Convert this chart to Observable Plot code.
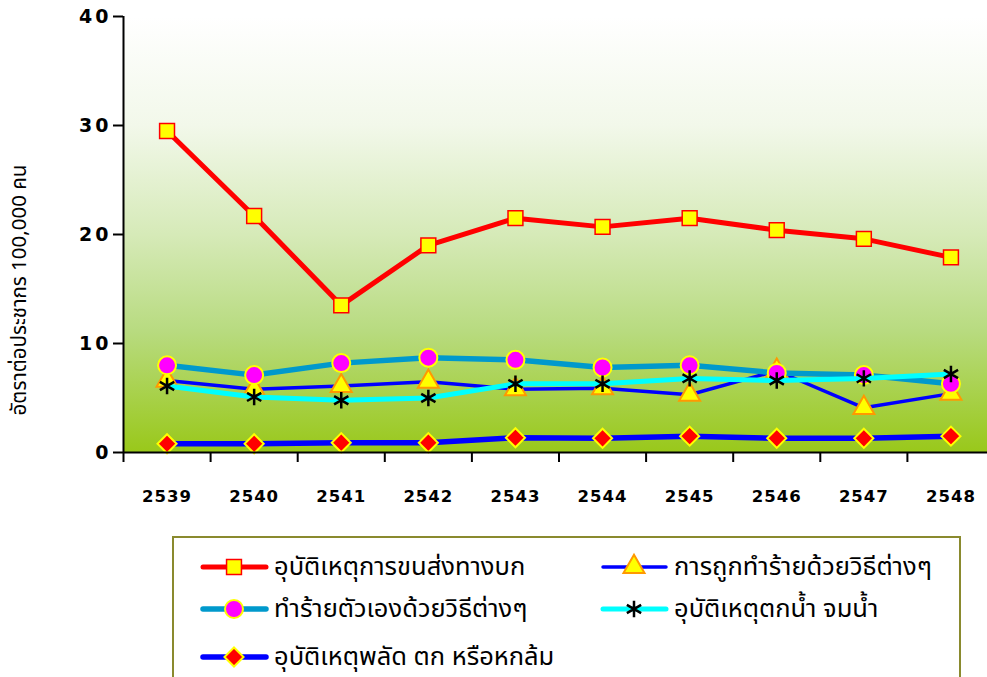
<!DOCTYPE html>
<html>
<head>
<meta charset="utf-8">
<script src="https://cdn.jsdelivr.net/npm/d3@7"></script>
<script src="https://cdn.jsdelivr.net/npm/@observablehq/plot@0.6"></script>
<style>
  html, body { margin: 0; padding: 0; background: #ffffff; }
  #wrap { position: relative; width: 987px; height: 677px; overflow: hidden; background: #fff; }
  #legend { position: absolute; left: 172px; top: 536px; width: 789px; height: 150px; border: 2px solid #8a8a2e; box-sizing: border-box; background: #fff; }
  .item { position: absolute; height: 30px; display: flex; align-items: center; white-space: nowrap; }
  .item span { font-family: "Noto Sans Thai", "Tahoma", "DejaVu Sans", sans-serif; font-size: 25.5px; color: #000; margin-left: 4px; }
  .item svg { display: block; }
  .ylab text { letter-spacing: 3px; }
  .xlab text { letter-spacing: 1px; }
</style>
</head>
<body>
<div id="wrap"><div id="chart"></div><div id="legend"></div></div>
<script>
// ---- data ----
const years = [2539, 2540, 2541, 2542, 2543, 2544, 2545, 2546, 2547, 2548];
const road     = [29.5, 21.7, 13.5, 19.0, 21.5, 20.7, 21.5, 20.4, 19.6, 17.9];
const assault  = [6.6, 5.8, 6.1, 6.5, 5.8, 5.9, 5.3, 7.5, 4.1, 5.4];
const selfHarm = [8.0, 7.1, 8.2, 8.7, 8.5, 7.8, 8.0, 7.3, 7.1, 6.3];
const drowning = [6.1, 5.1, 4.8, 5.0, 6.3, 6.3, 6.8, 6.6, 6.8, 7.2];
const falls    = [0.8, 0.8, 0.9, 0.9, 1.35, 1.3, 1.5, 1.3, 1.3, 1.5];
const yTicks = [0, 10, 20, 30, 40];
const seriesNames = [
  "อุบัติเหตุการขนส่งทางบก",
  "การถูกทำร้ายด้วยวิธีต่างๆ",
  "ทำร้ายตัวเองด้วยวิธีต่างๆ",
  "อุบัติเหตุตกน้ำ จมน้ำ",
  "อุบัติเหตุพลัด ตก หรือหกล้ม"
];
const yTitle = "อัตราต่อประชากร 100,000 คน";

// ---- styles per series ----
const styles = [
  {values: road,     line: "#ff0000", lw: 5,   symbol: "square",   r: 8.4, fill: "#ffff00", stroke: "#ff0000", sw: 1.5},
  {values: assault,  line: "#0000ff", lw: 3.5, symbol: "triangle", r: 7.8, fill: "#ffff00", stroke: "#ff9900", sw: 2},
  {values: selfHarm, line: "#0099cc", lw: 5.5, symbol: "circle",   r: 9,   fill: "#ff00ff", stroke: "#ffff00", sw: 2},
  {values: drowning, line: "#00ffff", lw: 5,   symbol: "asterisk", r: 7.8, fill: "none",    stroke: "#000000", sw: 2.5},
  {values: falls,    line: "#0000ff", lw: 5.5, symbol: "diamond2", r: 8.6, fill: "#ff0000", stroke: "#ffff00", sw: 2}
];

const boundaries = years.map(y => y - 0.5);

const marks = [
  Plot.frame({fill: "url(#bgGrad)", stroke: null}),
];
styles.forEach((s, i) => {
  const data = years.map((yr, j) => ({year: yr, value: s.values[j]}));
  marks.push(Plot.line(data, {x: "year", y: "value", stroke: s.line, strokeWidth: s.lw, strokeLinejoin: "round", strokeLinecap: "round"}));
  marks.push(Plot.dot(data, {x: "year", y: "value", symbol: () => s.symbol, r: s.r,
    fill: s.fill, stroke: s.stroke, strokeWidth: s.sw}));
});
marks.push(
  Plot.ruleX([boundaries[0]], {stroke: "#000", strokeWidth: 2}),
  Plot.ruleY([0], {stroke: "#000", strokeWidth: 2}),
  Plot.axisY({ticks: yTicks, tickSize: 10, tickPadding: 2, tickFormat: d => String(d), label: null,
    fontSize: 19, fontWeight: "bold", fontFamily: "DejaVu Sans", stroke: "#000", strokeWidth: 2, className: "ylab"}),
  Plot.axisX({ticks: boundaries, tickSize: 10, tickFormat: () => "", label: null, stroke: "#000", strokeWidth: 2}),
  Plot.axisX({ticks: years, tickSize: 0, tickPadding: 38, tickFormat: d => String(d), label: null,
    fontSize: 16.5, fontWeight: "bold", fontFamily: "DejaVu Sans", className: "xlab"})
);

const plot = Plot.plot({
  width: 987,
  height: 530,
  marginLeft: 123,
  marginRight: 0,
  marginTop: 16,
  marginBottom: 78,
  style: {background: "transparent", overflow: "visible"},
  x: {type: "linear", domain: [2538.5, 2548.5], range: [123, 994]},
  y: {domain: [0, 40], ticks: yTicks},
  symbol: {type: "identity"},
  marks
});

// gradient definition
const svg = d3.select(plot);
const defs = svg.insert("defs", ":first-child");
const grad = defs.append("linearGradient").attr("id", "bgGrad").attr("x1", 0).attr("y1", 0).attr("x2", 0).attr("y2", 1);
[[0, "#ffffff"], [0.25, "#f2f8ea"], [0.5, "#d6eab8"], [0.72, "#b8db80"], [1, "#99c81a"]].forEach(([o, c]) =>
  grad.append("stop").attr("offset", o).attr("stop-color", c));

// y axis title
svg.append("text")
  .attr("transform", "translate(20,290) rotate(-90)")
  .attr("text-anchor", "middle")
  .attr("dominant-baseline", "middle")
  .attr("font-family", "'Noto Sans Thai', Tahoma, 'DejaVu Sans', sans-serif")
  .attr("font-size", 20.5)
  .attr("fill", "#000")
  .text(yTitle);

document.getElementById("chart").appendChild(plot);

// ---- legend ----
const symbolMap = {square: d3.symbolSquare, triangle: d3.symbolTriangle, circle: d3.symbolCircle, asterisk: d3.symbolAsterisk, diamond2: d3.symbolDiamond2};
const positions = [[26, 14], [426, 14], [26, 56], [426, 56], [26, 104]];
const legend = document.getElementById("legend");
styles.forEach((s, i) => {
  const div = document.createElement("div");
  div.className = "item";
  div.style.left = positions[i][0] + "px";
  div.style.top = positions[i][1] + "px";
  const sw = d3.create("svg").attr("width", 70).attr("height", 30);
  sw.append("line").attr("x1", 3).attr("x2", 66).attr("y1", 15).attr("y2", 15)
    .attr("stroke", s.line).attr("stroke-width", s.lw).attr("stroke-linecap", "round");
  sw.append("path").attr("transform", "translate(34,15)")
    .attr("d", d3.symbol(symbolMap[s.symbol], Math.PI * s.r * s.r)())
    .attr("fill", s.fill).attr("stroke", s.stroke).attr("stroke-width", s.sw);
  div.appendChild(sw.node());
  const span = document.createElement("span");
  span.textContent = seriesNames[i];
  div.appendChild(span);
  legend.appendChild(div);
});
</script>
</body>
</html>
